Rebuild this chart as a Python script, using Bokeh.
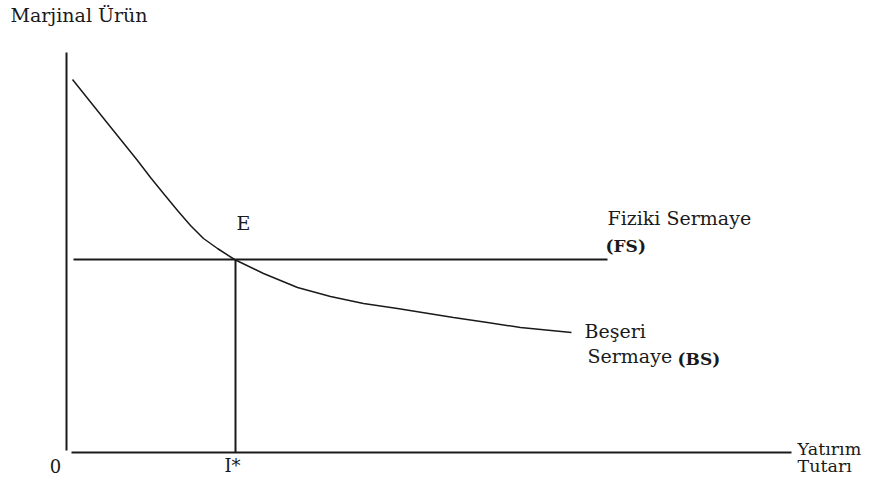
from bokeh.plotting import figure
from bokeh.models import Range1d
from bokeh.core.properties import value
from bokeh.embed import file_html
from bokeh.resources import INLINE

# Beşeri Sermaye (BS) marginal product curve (investment amount vs marginal product)
bs_x = [6, 38, 71, 84, 97, 111, 124, 137, 151, 168, 197, 231, 264, 297, 331, 362, 387, 421, 454, 505]
bs_y = [373, 333, 292, 275, 259, 242, 227, 214, 204, 193, 179, 165, 156, 149, 144, 139, 135, 130, 125, 120]

# Fiziki Sermaye (FS): constant marginal product
fs_level = 193
fs_x = [7, 541]

# equilibrium investment I*
i_star = 169

# axes extents
x_axis_end = 725
y_axis_top = 400

FONT = value("DejaVu Serif")
INK = "#1a1a1a"

p = figure(width=867, height=476, output_backend="svg", toolbar_location=None,
           x_range=Range1d(-66, 801), y_range=Range1d(-24, 452),
           min_border=0)
p.axis.visible = False
p.grid.visible = False
p.outline_line_color = None
p.background_fill_color = "white"
p.border_fill_color = "white"

# axes
p.line([0, 0], [2, y_axis_top], line_color=INK, line_width=2)
p.line([5, x_axis_end], [0, 0], line_color=INK, line_width=2)

# FS horizontal line
p.line(fs_x, [fs_level, fs_level], line_color=INK, line_width=2)

# I* vertical line
p.line([i_star, i_star], [0, fs_level], line_color=INK, line_width=2)

# BS curve
p.line(bs_x, bs_y, line_color=INK, line_width=1.5)

def label(x, y, t, size="19px", align="left", style="normal"):
    p.text(x=[x], y=[y], text=[t], text_font=FONT, text_font_size=size,
           text_align=align, text_baseline="middle", text_color=INK,
           text_font_style=style)

label(-56, 438, "Marjinal Ürün")
label(177, 230, "E", align="center")
label(fs_x[1], 235, "Fiziki Sermaye")
label(fs_x[1] - 2, 207, "(FS)", size="17px", style="bold")
label(bs_x[-1] + 13, 122, "Beşeri")
label(bs_x[-1] + 16, 97, "Sermaye")
label(bs_x[-1] + 106, 94, "(BS)", size="17px", style="bold")
label(x_axis_end + 6, 4, "Yatırım", size="17.5px")
label(x_axis_end + 6, -13, "Tutarı", size="17.5px")
label(-11, -13, "0", align="center", size="18px")
label(i_star - 3, -13, "I*", align="center", size="18px")

open("out.html", "w").write(file_html(p, INLINE))
